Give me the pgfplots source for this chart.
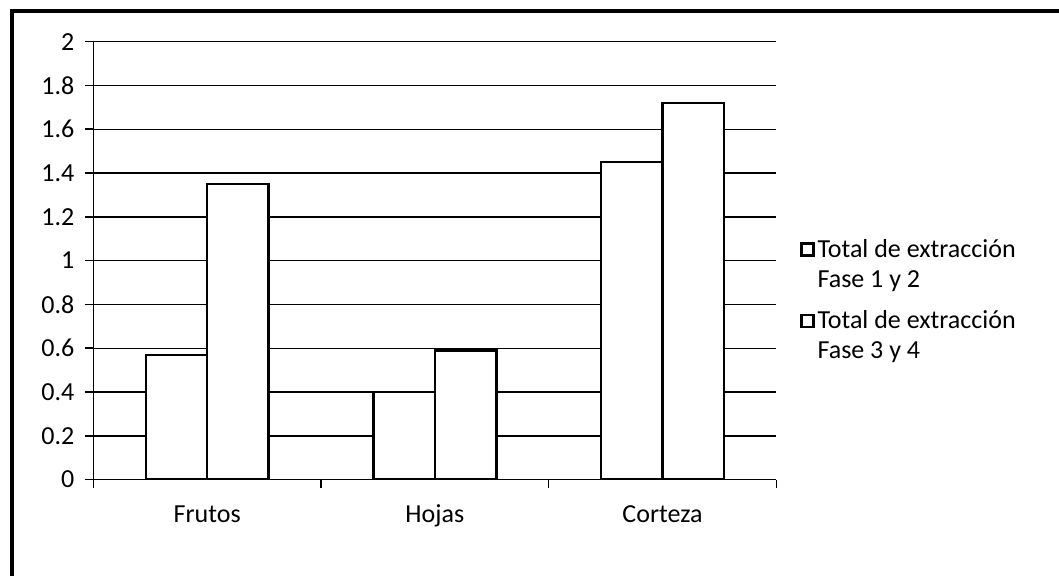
\documentclass[border=0pt]{standalone}
\usepackage{fontspec}
\setmainfont{Carlito}
\usepackage{pgfplots}
\pgfplotsset{compat=1.18}
\begin{document}
\fontsize{13}{15}\selectfont
\begin{tikzpicture}[x=1pt,y=1pt]
\useasboundingbox (0,0) rectangle (529.5,288);
\draw[line width=2pt] (6.2,0) -- (6.2,282.5) -- (529.5,282.5);
\begin{axis}[
  at={(41,44)}, anchor=south west, scale only axis,
  width=341.5pt, height=219pt,
  xmin=-0.5, xmax=2.5, ymin=0, ymax=2,
  axis x line*=bottom, axis y line*=left,
  axis line style={-, black, line width=0.8pt},
  ytick={0,0.2,0.4,0.6,0.8,1,1.2,1.4,1.6,1.8,2},
  ymajorgrids, major grid style={black, line width=0.7pt},
  tick align=outside, major tick length=4pt,
  tick style={black, line width=0.8pt},
  xtick={-0.5,0.5,1.5,2.5}, xticklabels={},
  extra x ticks={0,1,2}, extra x tick labels={Frutos,Hojas,Corteza},
  extra x tick style={major tick length=0pt, xticklabel style={anchor=base, yshift=-21.5pt}},
  /pgf/number format/assume math mode=true,
  yticklabel style={xshift=-1pt},
  legend style={draw=none, fill=none, inner sep=0pt,
    at={(rel axis cs:1.034,0.557)}, anchor=north west,
    row sep=23.2pt, nodes={inner xsep=1.5pt, inner ysep=0pt}},
  legend cell align=left,
  legend image code/.code={\draw[line width=1.3pt, fill=white] (0pt,-3.6pt) rectangle (6pt,2.4pt);},
]
\addplot[ybar, bar width=0.27, bar shift=-0.135, fill=white, draw=black, line width=1.2pt]
  coordinates {(0,0.57) (1,0.40) (2,1.45)};
\addlegendentry{\begin{tabular}[t]{@{}l@{}}Total de extracción\\Fase 1 y 2\end{tabular}}
\addplot[ybar, bar width=0.27, bar shift=0.135, fill=white, draw=black, line width=1.2pt]
  coordinates {(0,1.35) (1,0.59) (2,1.72)};
\addlegendentry{\begin{tabular}[t]{@{}l@{}}Total de extracción\\Fase 3 y 4\end{tabular}}
\end{axis}
\end{tikzpicture}
\end{document}
